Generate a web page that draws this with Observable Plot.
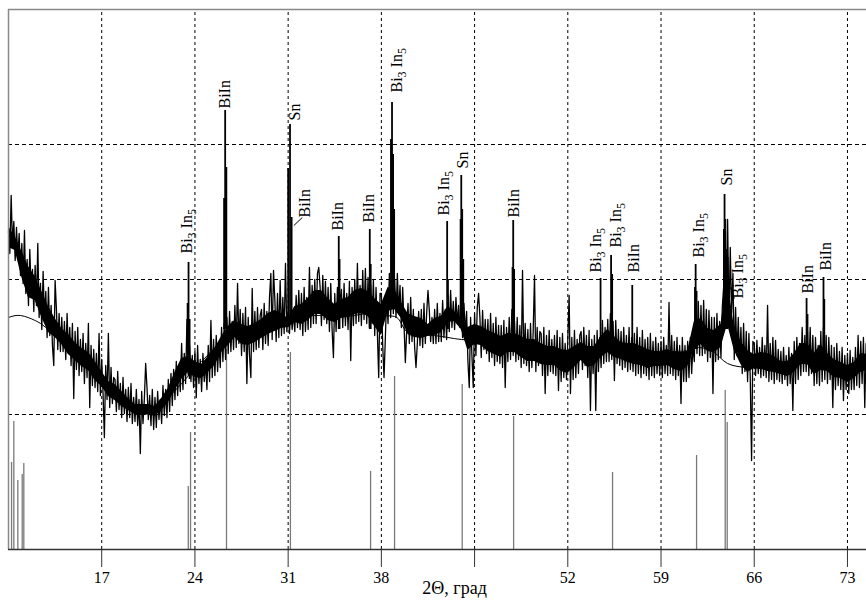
<!DOCTYPE html>
<html><head><meta charset="utf-8">
<script src="https://cdn.jsdelivr.net/npm/d3@7"></script>
<script src="https://cdn.jsdelivr.net/npm/@observablehq/plot@0.6"></script>
<style>body{margin:0;background:#fff} svg text{font-family:"Liberation Serif","Times New Roman",serif !important}</style>
</head><body><div id="chart"></div>
<script>
// Scan (2θ start / step) and intensities (arbitrary units)
const scanStart = 10, scanStep = 0.1;
const scanI = [
 318,296,354,304,328,289,322,292,316,274,
 306,266,319,256,290,244,300,258,280,238,
 284,244,306,232,266,220,278,230,258,212,
 262,214,244,204,184,269,240,200,236,198,
 232,198,228,190,236,196,222,184,226,151,
 218,180,222,174,210,178,216,166,206,172,
 226,142,204,164,200,162,196,158,216,154,
 190,156,112,184,150,216,142,182,146,172,
 170,138,178,140,166,132,172,136,160,128,
 162,132,166,126,152,128,160,124,150,96,
 158,126,150,186,162,130,154,124,160,120,
 152,122,158,130,150,126,164,134,160,132,
 170,138,176,144,180,150,188,154,184,158,
 206,160,196,166,230,174,204,168,194,162,
 198,152,204,166,190,158,196,168,188,160,
 204,168,229,172,210,174,214,178,206,182,
 222,188,226,190,232,196,238,198,228,200,
 244,202,266,206,240,194,236,198,242,166,
 232,194,172,261,198,238,200,242,202,234,
 240,200,246,206,238,204,252,276,210,279,
 250,208,256,212,269,214,252,216,286,218,
 238,216,240,220,236,218,254,222,259,220,
 256,214,262,218,252,220,282,222,264,226,
 270,226,276,282,262,224,274,230,268,226,
 262,218,266,220,192,256,218,262,222,250,
 260,222,266,224,256,220,268,189,262,224,
 270,226,286,228,264,224,279,230,281,226,
 272,222,264,226,270,214,262,216,172,256,
 256,204,172,212,254,226,276,232,290,236,
 270,232,276,236,264,222,262,226,187,218,
 246,206,252,208,240,202,182,206,238,204,
 240,202,246,206,236,259,239,208,232,206,
 240,206,246,208,236,208,249,212,240,210,
 254,218,259,222,248,220,252,226,244,222,
 242,212,246,216,238,188,162,232,194,162,
 236,194,242,256,232,192,239,200,230,196,
 230,188,236,192,226,184,232,188,224,186,
 224,182,229,162,222,188,232,190,240,194,
 228,188,232,190,224,182,279,186,226,184,
 220,178,226,182,218,274,178,222,184,218,
 216,174,222,156,214,174,219,178,210,176,
 214,174,219,159,212,168,216,172,206,170,
 210,254,156,212,170,219,172,210,176,214,
 218,180,222,184,214,172,219,139,210,176,
 214,139,219,178,212,182,229,186,222,188,
 230,188,236,190,228,169,229,186,220,184,
 218,180,222,182,214,178,222,180,212,178,
 216,174,222,176,212,172,219,176,210,174,
 212,170,216,174,208,172,212,176,206,174,
 208,172,212,176,204,174,247,176,214,174,
 208,170,212,174,204,146,212,168,204,168,
 208,172,212,176,204,188,259,196,248,194,
 244,194,249,196,240,188,239,192,232,156,
 232,188,236,190,228,192,242,262,300,244,
 330,226,302,236,276,190,242,194,232,190,
 222,176,226,178,218,168,216,172,89,208,
 206,174,209,176,202,172,212,174,204,172,
 244,168,206,170,212,166,209,170,200,168,
 198,166,202,170,194,164,202,166,196,139,
 208,166,212,170,206,174,222,178,214,178,
 218,174,222,176,214,164,212,166,204,164,
 218,168,222,170,214,166,212,170,204,142,
 202,160,206,164,198,160,202,149,194,160,
 196,156,199,160,192,160,202,164,214,162,
 208,166,212,142,206
];

// Dense core of the noisy trace (every 0.5°): lower / upper edge
const coreStart = 10, coreStep = 0.5;
const coreLo = [302,299,272,252,249,232,217,212,205,195, 189,183,179,169,163,153,149,143,139,135,
 134,135,133,139,147,159,170,177,172,171, 177,184,197,204,212,205,204,207,211,215,
 218,221,222,227,225,229,235,235,229,227, 231,232,235,236,233,223,214,238,240,231,
 215,212,211,213,214,217,227,228,220,199, 205,204,198,195,192,197,197,192,188,188,
 185,184,184,178,176,182,189,182,184,192, 197,192,190,187,185,184,181,183,183,184,
 180,178,183,200,205,198,197,202,225,199, 185,177,181,181,178,177,175,173,177,185,
 185,175,179,178,172,171,167,171,177,179];
const coreHi = [323,313,298,283,273,258,243,231,221,215, 207,201,197,188,178,168,165,158,151,145,
 145,145,143,151,161,177,191,193,188,185, 193,201,213,223,229,225,223,226,230,236,
 239,236,231,243,245,251,259,259,251,245, 250,252,259,261,258,251,245,262,260,247,
 236,233,231,225,231,233,243,238,231,222, 225,223,219,216,213,216,216,213,210,210,
 206,203,203,200,199,203,207,203,203,213, 220,213,207,206,206,203,200,198,198,200,
 197,197,198,228,231,221,219,225,270,223, 208,199,195,197,196,193,188,188,196,206,
 206,196,205,196,190,187,184,187,196,195];

// Sharp reflections
const peakT    = [23.45,23.52,23.6, 26.19,26.27,26.36, 31.0,31.14,31.26, 34.8,34.86, 37.13,37.2, 38.72,38.8,38.88,38.96, 42.94,43.0, 43.95,44.0,44.07,44.15, 47.85,47.9,47.97, 54.46, 55.25,55.33, 56.84, 61.55,61.6,61.67, 63.72,63.77,63.83,63.92,64.0, 69.93,70.0, 71.2,71.26];
const peakBase = [185,175,170, 220,220,220, 230,230,230, 220,220, 220,220, 240,240,240,240, 220,220, 230,230,230,220, 210,210,210, 200, 200,200, 190, 200,200,200, 220,220,220,220,220, 190,190, 190,190];
const peakTop  = [246,287,230, 351,439,382, 381,425,332, 313,290, 320,285, 410,447,395,340, 328,270, 330,374,340,290, 282,329,280, 271, 294,275, 264, 262,285,258, 320,355,330,300,292, 251,235, 272,250];

// Reference stick pattern (grey)
const stickT = [10.23,10.40,10.70,11.03,11.15,23.50,23.67,26.37,31.17,37.19,38.99,44.07,47.93,55.36,61.67,63.82,63.97];
const stickI = [87,128,69,75,86,63,117,200,197,78,173,165,133,77,94,159,127];

// Smooth background
const bgT = [10,10.9,12,12.8,14,15,16,17,18,19,20,21,22,23,24,25,26,27,28,29,30,31,32,33,34,35,36,37,38,39,39.5,40,41,42,43,44,45,46,47,48,50,52,54,56,58,60,61,61.8,63,64,65.5,67,68.5,70,71.3,72.5,73.5,74.43];
const bgI = [232,234,229,222,208,195,180,166,152,142,135,140,152,166,181,195,208,215,220,225,228,230,233,234,234,233,234,236,234,233,226,217,215,214,212,210,209,206,203,201,199,197,197,198,197,198,199,202,197,186,182,180,179,189,189,184,182,179];

// Phase labels
const labelName = ["Bi3 In5","BiIn","Sn","BiIn","BiIn","BiIn","Bi3 In5","Bi3 In5","Sn","BiIn","Bi3 In5","Bi3 In5","BiIn","Bi3 In5","Sn","Bi3 In5","BiIn","BiIn"];
const labelT = [23.42,26.22,31.48,32.23,34.74,37.07,39.14,42.70,44.09,47.92,54.08,55.58,56.97,61.85,63.92,64.78,70.0,71.35];
const labelI = [296,441,429,332,319,327,457,334,381,332,277,302,277,292,364,251,256,279];

// Leader lines
const leadT1 = [31.43, 64.21], leadI1 = [324, 262];
const leadT2 = [32.06, 64.51], leadI2 = [332, 251];

const tickValues = [17,24,31,38,45,52,59,66,73];
const tickLabels = ["17","24","31","38","","52","59","66","73"];
const gridI = [135,270,405];
const topI = 540;
const axisTitle = "2Θ, град";
const axisTitleT = 43.5;

const scan = scanI.map((v,i)=>({t: +(scanStart + i*scanStep).toFixed(2), v}));
const core = coreLo.map((lo,i)=>({t: coreStart + i*coreStep, lo, hi: coreHi[i]}));
const peaks = peakT.map((t,i)=>({t, b: peakBase[i], v: peakTop[i]}));
const sticks = stickT.map((t,i)=>({t, v: stickI[i]}));
const bg = bgT.map((t,i)=>({t, v: bgI[i]}));
const labels = labelName.map((n,i)=>({n, t: labelT[i], v: labelI[i]}));
const leaders = leadT1.map((t,i)=>({x1: t, y1: leadI1[i], x2: leadT2[i], y2: leadI2[i]}));

const font = "Liberation Serif, Times New Roman, serif";
const svg = Plot.plot({
  width: 866, height: 604,
  marginTop: 9, marginBottom: 55, marginLeft: 8, marginRight: 0,
  x: {domain: [10, 74.43], axis: null},
  y: {domain: [0, topI], axis: null},
  style: {fontFamily: font, fontSize: "16px", background: "#fff", color: "#000"},
  marks: [
    Plot.ruleY(gridI, {stroke: "#000", strokeDasharray: "4,3", strokeWidth: 1}),
    Plot.ruleX(tickValues, {y1: 0, y2: topI, stroke: "#000", strokeDasharray: "3,3", strokeWidth: 1}),
    Plot.ruleX(sticks, {x: "t", y1: 0, y2: "v", stroke: "#7a7a7a", strokeWidth: 1.3}),
    Plot.line(bg, {x: "t", y: "v", curve: "natural", stroke: "#000", strokeWidth: 1}),
    Plot.areaY(core, {x: "t", y1: "lo", y2: "hi", fill: "#000", clip: true}),
    Plot.line(scan, {x: "t", y: "v", stroke: "#000", strokeWidth: 1.3}),
    Plot.ruleX(peaks, {x: "t", y1: "b", y2: "v", stroke: "#000", strokeWidth: 1.8}),
    Plot.link(leaders, {x1: "x1", y1: "y1", x2: "x2", y2: "y2", stroke: "#000", strokeWidth: 1}),
    Plot.text(labels, {x: "t", y: "v", text: "n", rotate: -90, textAnchor: "start", fontSize: 16, fontFamily: font, fill: "#000"}),
    Plot.ruleY([topI], {stroke: "#888", strokeWidth: 1.5}),
    Plot.ruleX([10], {y1: 0, y2: topI, stroke: "#888", strokeWidth: 1.5}),
    Plot.ruleY([0], {stroke: "#333", strokeWidth: 1.5}),
    Plot.axisX({ticks: tickValues, tickSize: 18, tickPadding: 4, tickFormat: d => tickLabels[tickValues.indexOf(d)], label: null, fontSize: 16, fontFamily: font, stroke: "#333"}),
    Plot.text([{t: axisTitleT, s: axisTitle}], {x: "t", text: "s", frameAnchor: "bottom", dy: 44, fontSize: 18, fontFamily: font, fill: "#000"})
  ]
});
svg.style.fontFamily = font;

// subscripts in Bi3In5 labels
d3.select(svg).selectAll("text").each(function(){
  if (this.textContent !== "Bi3 In5") return;
  const first = this.querySelector("tspan");
  const dyKeep = first ? first.getAttribute("dy") : null;
  const sel = d3.select(this);
  sel.text(null);
  const a = sel.append("tspan").text("Bi");
  if (dyKeep) a.attr("dy", dyKeep);
  sel.append("tspan").attr("font-size", "12px").attr("dy", "4").text("3");
  sel.append("tspan").attr("dy", "-4").text(" In");
  sel.append("tspan").attr("font-size", "12px").attr("dy", "4").text("5");
});

document.getElementById("chart").append(svg);
</script></body></html>
